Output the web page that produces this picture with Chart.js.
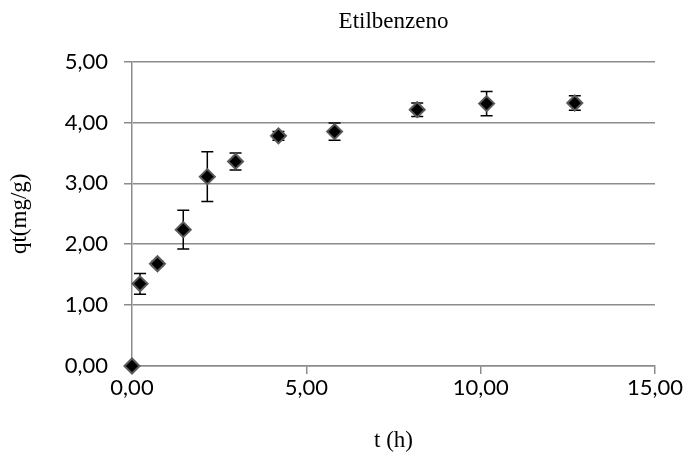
<!DOCTYPE html>
<html>
<head>
<meta charset="utf-8">
<script src="https://cdn.jsdelivr.net/npm/chart.js@4/dist/chart.umd.min.js"></script>
<style>
  html, body { margin: 0; padding: 0; background: #ffffff; }
  #wrap { width: 687px; height: 459px; }
</style>
</head>
<body>
<div id="wrap"><canvas id="c" width="687" height="459"></canvas></div>
<script>
// Data
const timeHours = [0, 0.23, 0.73, 1.47, 2.16, 2.97, 4.20, 5.81, 8.18, 10.17, 12.70];
const qtValues  = [0, 1.35, 1.68, 2.24, 3.11, 3.36, 3.78, 3.85, 4.21, 4.31, 4.32];
const qtErrors  = [0, 0.17, 0.04, 0.32, 0.41, 0.14, 0.07, 0.14, 0.11, 0.20, 0.12];
const xTicks = [0, 5, 10, 15];
const yTicks = [0, 1, 2, 3, 4, 5];
const chartTitle = 'Etilbenzeno';
const xTitle = 't (h)';
const yTitle = 'qt(mg/g)';

const fmt = v => v.toFixed(2).replace('.', ',');

const errorBarPlugin = {
  id: 'errorBars',
  beforeDatasetsDraw(chart) {
    const ctx = chart.ctx;
    const xs = chart.scales.x, ys = chart.scales.y;
    ctx.save();
    ctx.strokeStyle = '#000000';
    ctx.lineWidth = 1.5;
    for (let i = 0; i < timeHours.length; i++) {
      if (!qtErrors[i]) continue;
      const px = xs.getPixelForValue(timeHours[i]);
      const top = ys.getPixelForValue(qtValues[i] + qtErrors[i]);
      const bot = ys.getPixelForValue(qtValues[i] - qtErrors[i]);
      const cap = 6;
      ctx.beginPath();
      ctx.moveTo(px, top); ctx.lineTo(px, bot);
      ctx.moveTo(px - cap, top); ctx.lineTo(px + cap, top);
      ctx.moveTo(px - cap, bot); ctx.lineTo(px + cap, bot);
      ctx.stroke();
    }
    ctx.restore();
  }
};

const points = timeHours.map((t, i) => ({ x: t, y: qtValues[i] }));

new Chart(document.getElementById('c'), {
  type: 'scatter',
  data: {
    datasets: [{
      data: points,
      pointStyle: 'rectRot',
      pointRadius: 7.5,
      pointHoverRadius: 7.5,
      backgroundColor: '#000000',
      borderColor: '#5a5a5a',
      borderWidth: 2,
      clip: false
    }]
  },
  options: {
    responsive: false,
    animation: false,
    events: [],
    layout: { padding: { left: 0, right: 32, top: 0, bottom: 0 } },
    plugins: {
      legend: { display: false },
      tooltip: { enabled: false },
      title: {
        display: true,
        fullSize: false,
        text: chartTitle,
        color: '#000000',
        font: { family: 'Liberation Serif', size: 23, weight: 'normal' },
        padding: { top: 8, bottom: 26 }
      }
    },
    scales: {
      x: {
        type: 'linear',
        min: 0, max: 15,
        afterBuildTicks: s => { s.ticks = xTicks.map(v => ({ value: v })); },
        afterFit: s => { s.height = 93; },
        ticks: {
          callback: v => fmt(v),
          color: '#000000',
          font: { family: 'Lato', size: 22 },
          padding: 1,
          maxRotation: 0
        },
        grid: { display: true, drawOnChartArea: false, drawTicks: true, tickLength: 8, color: '#8c8c8c', lineWidth: 1.5 },
        border: { display: true, color: '#8c8c8c', width: 1.5 },
        title: {
          display: true, text: xTitle, color: '#000000',
          font: { family: 'Liberation Serif', size: 23, weight: 'normal' },
          padding: { top: 0, bottom: 4 }
        }
      },
      y: {
        type: 'linear',
        min: 0, max: 5,
        afterBuildTicks: s => { s.ticks = yTicks.map(v => ({ value: v })); },
        afterFit: s => { s.width = 132; },
        ticks: {
          callback: v => fmt(v),
          color: '#000000',
          font: { family: 'Lato', size: 22 },
          padding: 16
        },
        grid: { display: true, drawTicks: true, tickLength: 8, color: '#8c8c8c', lineWidth: 1.5 },
        border: { display: true, color: '#8c8c8c', width: 1.5 },
        title: {
          display: true, text: yTitle, color: '#000000',
          font: { family: 'Liberation Serif', size: 23, weight: 'normal' },
          padding: { top: 6, bottom: 0 }
        }
      }
    }
  },
  plugins: [errorBarPlugin]
});
</script>
</body>
</html>
